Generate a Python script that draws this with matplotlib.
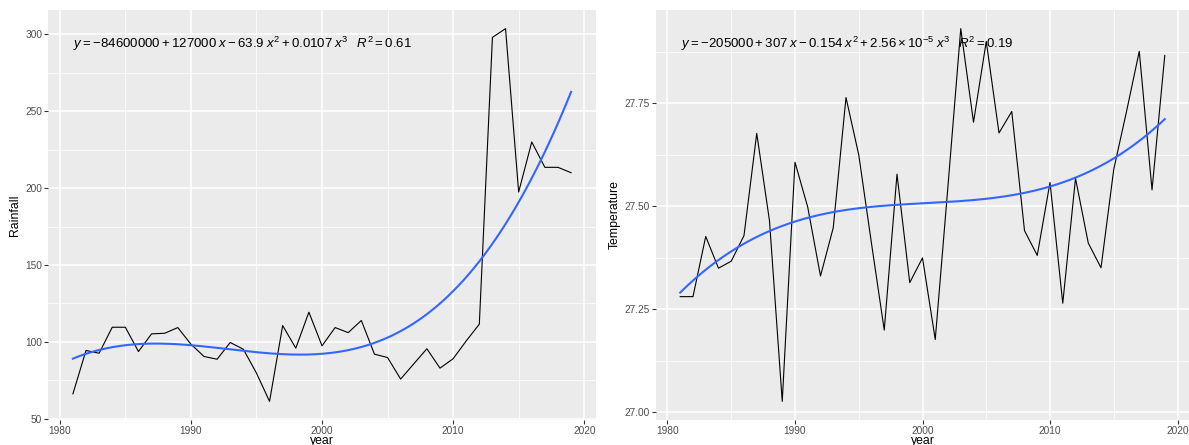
import numpy as np
import matplotlib
matplotlib.use("Agg")
import matplotlib.pyplot as plt
from matplotlib.ticker import MultipleLocator, FormatStrFormatter

years = list(range(1981, 2020))
rainfall = [66.2, 94.4, 92.6, 109.5, 109.5, 93.7, 105.2, 105.6, 109.3, 98.5,
            90.5, 88.7, 99.6, 95.2, 79.7, 61.3, 110.6, 95.9, 119.3, 97.4,
            109.3, 106.0, 113.9, 92.0, 89.8, 75.8, 85.7, 95.5, 82.9, 89.0,
            100.6, 111.5, 298.0, 303.7, 197.4, 230.0, 213.5, 213.5, 210.0]
temperature = [27.281, 27.281, 27.427, 27.350, 27.367, 27.429, 27.677, 27.465,
               27.027, 27.607, 27.498, 27.331, 27.448, 27.764, 27.625, 27.41,
               27.200, 27.578, 27.315, 27.375, 27.177, 27.55, 27.931, 27.704,
               27.900, 27.678, 27.730, 27.441, 27.381, 27.558, 27.265, 27.568,
               27.411, 27.351, 27.59, 27.73, 27.876, 27.540, 27.866]
x_ticks = [1980, 1990, 2000, 2010, 2020]
rain_ticks = [50, 100, 150, 200, 250, 300]
temp_ticks = [27.00, 27.25, 27.50, 27.75]
rain_eq = r"$y = -84600000 + 127000\;x - 63.9\;x^2 + 0.0107\;x^3\;\;\;R^2 = 0.61$"
temp_eq = r"$y = -205000 + 307\;x - 0.154\;x^2 + 2.56\times10^{-5}\;x^3\;\;\;R^2 = 0.19$"

plt.rcParams['font.family'] = ['Liberation Sans', 'DejaVu Sans']
plt.rcParams['mathtext.fontset'] = 'custom'
plt.rcParams['mathtext.rm'] = 'Liberation Sans'
plt.rcParams['mathtext.it'] = 'Liberation Sans:italic'
plt.rcParams['mathtext.bf'] = 'Liberation Sans:bold'

W, H = 1189, 445
fig = plt.figure(figsize=(W / 100, H / 100), dpi=100)
ax1 = fig.add_axes([48 / W, 1 - 420 / H, (596 - 48) / W, (420 - 10) / H])
ax2 = fig.add_axes([656 / W, 1 - 420 / H, (1189 - 656) / W, (420 - 10) / H])


def style(ax, yticks, ylabel, minor_y, fmt):
    ax.set_facecolor('#EBEBEB')
    for s in ax.spines.values():
        s.set_visible(False)
    ax.set_xticks(x_ticks)
    ax.set_yticks(yticks)
    ax.xaxis.set_minor_locator(MultipleLocator(5))
    ax.yaxis.set_minor_locator(MultipleLocator(minor_y))
    ax.yaxis.set_major_formatter(FormatStrFormatter(fmt))
    ax.grid(which='major', color='white', linewidth=1.1)
    ax.grid(which='minor', color='white', linewidth=0.55)
    ax.set_axisbelow(True)
    ax.tick_params(which='major', length=2.75, width=0.8, color='#333333',
                   labelsize=7.3, labelcolor='#4D4D4D', pad=1.5)
    ax.tick_params(which='minor', length=0)
    ax.set_xlabel('year', fontsize=8.8, labelpad=-0.5)
    ax.set_ylabel(ylabel, fontsize=8.8, labelpad=3)
    ax.margins(x=0.05, y=0.05)


def draw(ax, y, eq):
    xa = np.array(years, dtype=float)
    ya = np.array(y, dtype=float)
    ax.plot(xa, ya, color='black', linewidth=0.8, zorder=3)
    p = np.polynomial.Polynomial.fit(xa, ya, 3)
    xs = np.linspace(xa.min(), xa.max(), 200)
    ax.plot(xs, p(xs), color='#3366FF', linewidth=1.5, zorder=4)
    ax.text(0.046, 0.918, eq, transform=ax.transAxes, fontsize=9.5,
            color='black', va='center', ha='left', zorder=5)


draw(ax1, rainfall, rain_eq)
draw(ax2, temperature, temp_eq)
style(ax1, rain_ticks, 'Rainfall', 25, '%d')
style(ax2, temp_ticks, 'Temperature', 0.125, '%.2f')
ax1.set_xlim(1981 - 1.9, 2019 + 1.9)
ax2.set_xlim(1981 - 1.9, 2019 + 1.9)

fig.savefig('out.png', dpi=100)
